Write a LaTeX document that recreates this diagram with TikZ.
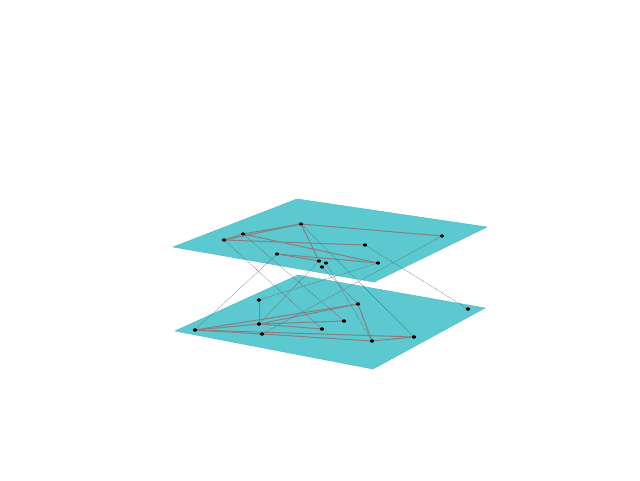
\documentclass[tikz,border=0pt]{standalone}
\usetikzlibrary{shapes.geometric}
\definecolor{planec}{RGB}{92,200,207}
\definecolor{planeedge}{RGB}{80,190,198}
\definecolor{edgec}{RGB}{134,128,130}
\definecolor{interc}{RGB}{100,100,100}
\tikzset{
  vert/.style={ellipse,fill=black,inner sep=0pt,minimum width=4.2pt,minimum height=2.8pt},
  plane/.style={fill=planec,draw=planeedge,line width=0.5pt,line join=round},
  intra/.style={draw=edgec,line width=1pt},
  inter/.style={draw=interc,line width=0.4pt,dash pattern=on 0.7pt off 0.7pt}
}
\begin{document}
\begin{tikzpicture}[x=1pt,y=-1pt]
\useasboundingbox (0,0) rectangle (640,480);
% bottom plane
\draw[plane] (175,331) -- (298,275) -- (485,308) -- (373,369) -- cycle;
\node[vert] (a) at (259,300) {};
\node[vert] (b) at (259,324) {};
\node[vert] (c) at (195,330) {};
\node[vert] (d) at (262,334) {};
\node[vert] (e) at (322,329) {};
\node[vert] (f) at (358,304) {};
\node[vert] (g) at (344,321) {};
\node[vert] (h) at (372,341) {};
\node[vert] (i) at (414,337) {};
\node[vert] (j) at (468,309) {};
\draw[intra] (a.center) -- (b.center);
\draw[intra] (b.center) -- (c.center);
\draw[intra] (c.center) -- (f.center);
\draw[intra] (b.center) -- (f.center);
\draw[intra] (b.center) -- (g.center);
\draw[intra] (b.center) -- (e.center);
\draw[intra] (c.center) -- (i.center);
\draw[intra] (c.center) -- (d.center);
\draw[intra] (d.center) -- (h.center);
\draw[intra] (f.center) -- (h.center);
\draw[intra] (h.center) -- (i.center);
\foreach \n in {a,b,c,d,e,f,g,h,i,j} {\node[vert] at (\n) {};}
% top plane
\draw[plane] (173,247) -- (297,199) -- (487,227) -- (374,282) -- cycle;
\node[vert] (A) at (224,240) {};
\node[vert] (B) at (243,234) {};
\node[vert] (C) at (301,224) {};
\node[vert] (D) at (442,236) {};
\node[vert] (E) at (365,245) {};
\node[vert] (F) at (378,263) {};
\node[vert] (G) at (319,261) {};
\node[vert] (K) at (326,263) {};
\node[vert] (L) at (322,267) {};
\node[vert] (H) at (277,254) {};
\draw[intra] (A.center) -- (B.center);
\draw[intra] (A.center) -- (C.center);
\draw[intra] (B.center) -- (C.center);
\draw[intra] (C.center) -- (D.center);
\draw[intra] (A.center) -- (E.center);
\draw[intra] (B.center) -- (F.center);
\draw[intra] (C.center) -- (G.center);
\draw[intra] (H.center) -- (F.center);
\draw[intra] (H.center) -- (G.center);
% interlayer
\draw[inter] (H.center) -- (c.center);
\draw[inter] (A.center) -- (e.center);
\draw[inter] (B.center) -- (g.center);
\draw[inter] (F.center) -- (a.center);
\draw[inter] (D.center) -- (d.center);
\draw[inter] (E.center) -- (j.center);
\draw[inter] (C.center) -- (i.center);
\draw[inter] (K.center) -- (h.center);
\draw[inter] (G.center) -- (b.center);
\draw[inter] (L.center) -- (f.center);
\foreach \n in {A,B,C,D,E,F,G,K,L,H} {\node[vert] at (\n) {};}
\foreach \n in {a,b,c,d,e,f,g,h,i,j} {\node[vert] at (\n) {};}
\end{tikzpicture}
\end{document}
